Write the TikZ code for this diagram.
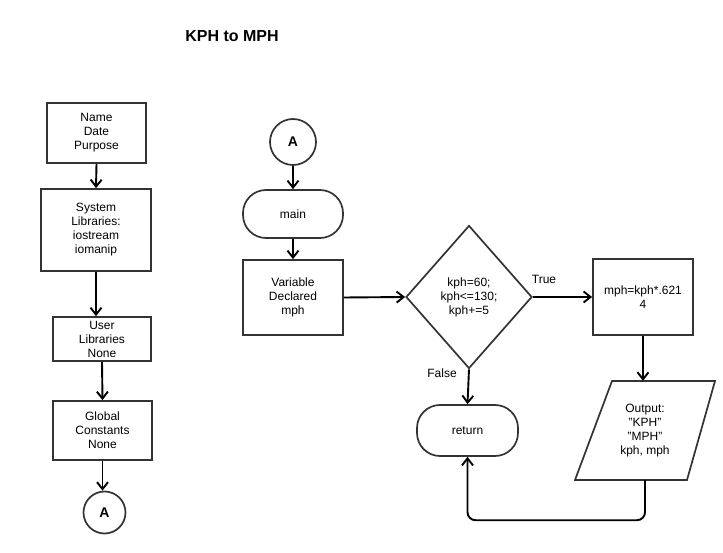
\documentclass[tikz,border=0pt]{standalone}
\usepackage{fontspec}
\setmainfont{Liberation Sans}
\usetikzlibrary{arrows.meta,shapes.geometric}
\definecolor{edge}{HTML}{333333}
\tikzset{
  box/.style={draw=edge, line width=1.7pt, rectangle, inner sep=0pt, align=center,
    font=\fontsize{12}{14}\selectfont},
  term/.style={box, rounded corners=23pt},
  conn/.style={box, circle, font=\fontsize{14}{16}\selectfont\bfseries},
  dec/.style={box, diamond, aspect=0.9},
  txt/.style={inner sep=0pt, align=center, font=\fontsize{12}{14}\selectfont},
  arr/.style={line width=1.9pt, -{Straight Barb[length=7pt,width=11pt]}},
}
\begin{document}
\begin{tikzpicture}[x=1pt,y=-1pt]
\useasboundingbox (0,0) rectangle (723,553);
% title
\node[font=\fontsize{16}{18}\selectfont\bfseries] (title) at (232,36) {KPH to MPH};
% left column
\node[box, minimum width=99pt, minimum height=60pt] (n1) at (96.5,133) {Name\\Date\\Purpose};
\node[box, minimum width=110pt, minimum height=82pt] (n2) at (96,230) {System\\Libraries:\\iostream\\iomanip};
\node[box, minimum width=98pt, minimum height=44pt] (n3) at (102,339) {User\\Libraries\\None};
\node[box, minimum width=99pt, minimum height=59pt] (n4) at (102.5,430.5) {Global\\Constants\\None};
\node[conn, minimum size=42pt] (a1) at (104.5,512.5) {A};
\draw[arr] (n1.south) -- (n2.north);
\draw[arr] (n2.south) -- (n2.south |- n3.north);
\draw[arr] (n3.south) -- (n4.north);
\draw[arr] (n4.south) -- (n4.south |- a1.north);
% right part
\node[conn, minimum size=46pt] (a2) at (293,142) {A};
\node[term, minimum width=100pt, minimum height=48pt] (main) at (293,214) {main};
\node[box, minimum width=100pt, minimum height=75pt] (var) at (293,297.5) {Variable\\Declared\\mph};
\node[dec, minimum width=126pt, minimum height=143pt] (dia) at (469,297) {kph=60;\\kph<=130;\\kph+=5};
\node[box, minimum width=100pt, minimum height=76pt] (mph) at (643,297) {mph=kph*.621\\4};
\draw[edge, line width=1.7pt] (575,480) -- (612,381) -- (715,381) -- (687,480) -- cycle;
\node[txt, minimum width=100pt, minimum height=99pt] (out) at (645,430.5) {Output:\\"KPH"\\"MPH"\\kph, mph};
\node[term, minimum width=101pt, minimum height=51pt] (ret) at (467.5,430.5) {return};
\draw[arr] (a2.south) -- (main.north);
\draw[arr] (main.south) -- (var.north);
\draw[arr] (var.east) -- (dia.west);
\draw[arr] (dia.east) -- (mph.west);
\node[txt] (ltrue) at (544,279) {True};
\draw[arr] (dia.south) -- (ret.north);
\node[txt] (lfalse) at (442,373) {False};
\draw[arr] (mph.south) -- (mph.south |- out.north);
\draw[arr, rounded corners=8pt] (out.south) -- ++(0,40) -| (ret.south);
\end{tikzpicture}
\end{document}
